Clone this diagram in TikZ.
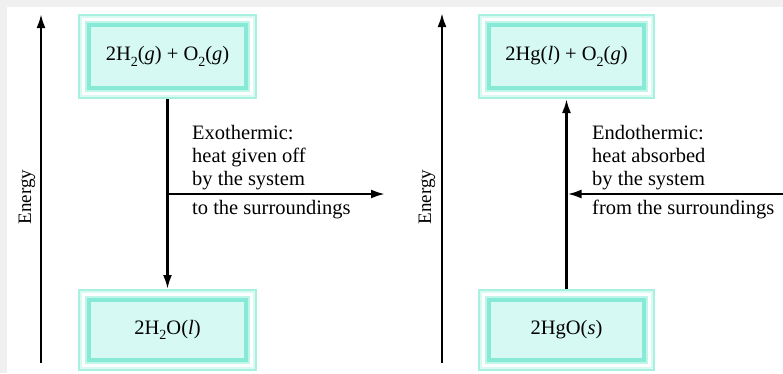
\documentclass[tikz,border=0pt]{standalone}
\usepackage{fontspec}
\setmainfont{Liberation Serif}
\usetikzlibrary{arrows.meta}
\definecolor{bggray}{HTML}{F0F0F0}
\definecolor{tealA}{HTML}{A8F0E0}
\definecolor{tealB}{HTML}{D8FAF3}
\definecolor{tealC}{HTML}{C0F5EA}
\definecolor{tealD}{HTML}{86EAD6}
\definecolor{tealF}{HTML}{D6FAF3}
\newcommand\sbs[1]{\raisebox{-0.28em}{\fontsize{14}{14}\selectfont #1}}
\tikzset{
  lv/.style={rectangle, draw=none, inner sep=0pt, outer sep=0pt},
  arr/.style={line width=2.4pt, -{Latex[length=14pt,width=9pt]}},
  axisarr/.style={line width=2.4pt, -{Latex[length=14pt,width=9pt]}},
  lbl/.style={font=\fontsize{20.5}{23}\selectfont, inner sep=0pt},
  txt/.style={font=\fontsize{20.5}{23}\selectfont, inner sep=0pt, anchor=base west},
  en/.style={font=\fontsize{19}{22}\selectfont, inner sep=0pt, rotate=90}
}
% name, x, y, width, height, text
\newcommand\levelbox[6]{%
  \node[lv, fill=tealA, minimum width=#4pt, minimum height=#5pt] (#1) at (#2,#3) {};
  \node[lv, fill=tealB, minimum width=#4pt-4pt, minimum height=#5pt-4pt] (#1b) at (#1) {};
  \node[lv, fill=white, minimum width=#4pt-8pt, minimum height=#5pt-8pt] (#1c) at (#1) {};
  \node[lv, fill=tealC, minimum width=#4pt-14pt, minimum height=#5pt-14pt] (#1d) at (#1) {};
  \node[lv, fill=tealD, minimum width=#4pt-18pt, minimum height=#5pt-18pt] (#1e) at (#1) {};
  \node[lv, fill=tealF, minimum width=#4pt-26pt, minimum height=#5pt-26pt] (#1f) at (#1) {};
  \node[lbl] (#1t) at (#1) {#6};
}
\begin{document}
\begin{tikzpicture}[x=1pt,y=-1pt]
\useasboundingbox (0,0) rectangle (783,373);
\fill[bggray] (0,0) rectangle (783,373);
\fill[white] (7,7) rectangle (783,373);

% left diagram
\coordinate (la0) at (41,363);
\coordinate (la1) at (41,14);
\draw[axisarr] (la0) -- (la1);
\node[en] (le) at (27,197) {Energy};

\levelbox{lt}{167.5}{56.5}{179}{85}{2H\sbs{2}(\textit{g}) + O\sbs{2}(\textit{g})}
\levelbox{lb}{167.5}{330}{179}{82}{2H\sbs{2}O(\textit{l})}

\draw[arr] (lt.south) -- (lb.north);
\coordinate (lj) at (167.5,194);
\coordinate (lend) at (385,194);
\draw[arr] (lj) -- (lend);
\node[txt] (ltx1) at (192,139) {Exothermic:};
\node[txt] (ltx2) at (192,162) {heat given off};
\node[txt] (ltx3) at (192,185) {by the system};
\node[txt] (ltx4) at (192,214) {to the surroundings};

% right diagram
\coordinate (ra0) at (442,363);
\coordinate (ra1) at (442,13);
\draw[axisarr] (ra0) -- (ra1);
\node[en] (re) at (427,197) {Energy};

\levelbox{rt}{566.5}{56.5}{177}{85}{2Hg(\textit{l}) + O\sbs{2}(\textit{g})}
\levelbox{rb}{566.5}{330}{177}{82}{2HgO(\textit{s})}

\draw[arr] (rb.north) -- (rt.south);
\coordinate (rs) at (783,194);
\coordinate (rj) at (567.5,194);
\draw[arr] (rs) -- (rj);
\node[txt] (rtx1) at (592,139) {Endothermic:};
\node[txt] (rtx2) at (592,162) {heat absorbed};
\node[txt] (rtx3) at (592,185) {by the system};
\node[txt] (rtx4) at (592,214) {from the surroundings};
\end{tikzpicture}
\end{document}
